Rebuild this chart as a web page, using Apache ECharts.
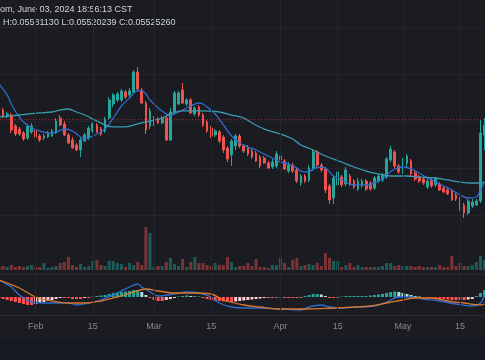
<!DOCTYPE html>
<html><head><meta charset="utf-8">
<script src="https://cdn.jsdelivr.net/npm/echarts@6/dist/echarts.min.js"></script>
<style>html,body{margin:0;padding:0;background:#1b1c22;}#c{width:485px;height:360px;}</style>
</head><body><div id="c"></div>
<script>
// ---- data (ETH/BTC daily) ----
const startDate = [2024, 0, 23];
const dayCount = 120;
const tickDates = ['02-01','02-15','03-01','03-15','04-01','04-15','05-01','05-15'];
const tickLabels = ['Feb','15','Mar','15','Apr','15','May','15'];

const open = [0.05867,0.05622,0.05559,0.05569,0.05452,0.05420,0.05378,0.05325,0.05388,0.05410,
0.05346,0.05325,0.05335,0.05346,0.05378,0.05537,0.05474,0.05357,0.05303,0.05250,
0.05197,0.05293,0.05325,0.05399,0.05463,0.05420,0.05399,0.05537,0.05686,0.05729,
0.05729,0.05814,0.05782,0.05814,0.06027,0.05835,0.05697,0.05452,0.05474,0.05527,
0.05484,0.05537,0.05303,0.05601,0.05686,0.05835,0.05686,0.05729,0.05580,0.05654,
0.05569,0.05495,0.05431,0.05357,0.05388,0.05335,0.05218,0.05144,0.05240,0.05346,
0.05240,0.05229,0.05186,0.05165,0.05123,0.05112,0.05058,0.05016,0.05027,0.05133,
0.05080,0.04973,0.05037,0.04984,0.04846,0.04920,0.04878,0.04995,0.05176,0.05037,
0.04995,0.04814,0.04686,0.04825,0.04910,0.04835,0.04920,0.04867,0.04782,0.04814,
0.04867,0.04846,0.04793,0.04867,0.04878,0.04910,0.05090,0.05176,0.05027,0.04963,
0.05058,0.05080,0.04952,0.04910,0.04888,0.04803,0.04878,0.04825,0.04835,0.04793,
0.04771,0.04761,0.04718,0.04676,0.04612,0.04527,0.04601,0.04612,0.04654,0.05357];
const close = [0.05612,0.05559,0.05580,0.05410,0.05367,0.05367,0.05314,0.05452,0.05452,0.05335,
0.05303,0.05346,0.05378,0.05399,0.05505,0.05463,0.05357,0.05271,0.05218,0.05197,
0.05303,0.05357,0.05431,0.05474,0.05388,0.05367,0.05527,0.05729,0.05782,0.05793,
0.05825,0.05761,0.05825,0.06027,0.05846,0.05697,0.05410,0.05612,0.05527,0.05484,
0.05537,0.05303,0.05601,0.05803,0.05803,0.05697,0.05729,0.05591,0.05644,0.05569,
0.05463,0.05399,0.05346,0.05399,0.05293,0.05197,0.05101,0.05293,0.05346,0.05240,
0.05186,0.05154,0.05123,0.05080,0.05027,0.05058,0.05005,0.05069,0.05154,0.05090,
0.04995,0.05037,0.04973,0.04867,0.04920,0.04867,0.05005,0.05176,0.05037,0.04984,
0.04771,0.04665,0.04899,0.04963,0.04825,0.04984,0.04835,0.04803,0.04867,0.04867,
0.04782,0.04782,0.04899,0.04920,0.04931,0.05101,0.05208,0.05027,0.04963,0.05090,
0.05133,0.04942,0.04888,0.04867,0.04846,0.04867,0.04814,0.04888,0.04771,0.04750,
0.04729,0.04665,0.04676,0.04569,0.04527,0.04654,0.04644,0.04654,0.05378,0.05463];
const low = [0.05559,0.05537,0.05537,0.05378,0.05346,0.05346,0.05293,0.05303,0.05367,0.05325,
0.05282,0.05303,0.05325,0.05335,0.05367,0.05452,0.05346,0.05261,0.05208,0.05186,
0.05123,0.05282,0.05303,0.05378,0.05378,0.05346,0.05378,0.05516,0.05654,0.05708,
0.05708,0.05739,0.05761,0.05793,0.05825,0.05686,0.05367,0.05420,0.05452,0.05474,
0.05474,0.05293,0.05293,0.05580,0.05676,0.05686,0.05665,0.05580,0.05559,0.05548,
0.05442,0.05378,0.05325,0.05335,0.05271,0.05165,0.05069,0.05027,0.05197,0.05218,
0.05165,0.05133,0.05101,0.05069,0.05005,0.05048,0.04995,0.04995,0.05005,0.05027,
0.04984,0.04952,0.04952,0.04846,0.04814,0.04846,0.04856,0.04973,0.05016,0.04963,
0.04739,0.04622,0.04622,0.04782,0.04803,0.04814,0.04814,0.04782,0.04761,0.04793,
0.04761,0.04761,0.04771,0.04846,0.04856,0.04888,0.05069,0.05005,0.04942,0.04942,
0.05016,0.04920,0.04867,0.04846,0.04825,0.04782,0.04793,0.04803,0.04761,0.04739,
0.04718,0.04654,0.04654,0.04548,0.04474,0.04506,0.04580,0.04601,0.04633,0.05197];
const high = [0.05888,0.05644,0.05601,0.05591,0.05474,0.05442,0.05399,0.05474,0.05484,0.05431,
0.05367,0.05367,0.05399,0.05420,0.05537,0.05569,0.05505,0.05378,0.05335,0.05271,
0.05325,0.05378,0.05452,0.05495,0.05484,0.05442,0.05548,0.05761,0.05803,0.05814,
0.05846,0.05835,0.05857,0.06048,0.06080,0.05857,0.05718,0.05644,0.05559,0.05548,
0.05559,0.05559,0.05644,0.05825,0.05825,0.05910,0.05750,0.05750,0.05665,0.05676,
0.05591,0.05516,0.05452,0.05420,0.05410,0.05357,0.05240,0.05314,0.05367,0.05367,
0.05261,0.05250,0.05208,0.05186,0.05144,0.05133,0.05080,0.05101,0.05186,0.05154,
0.05101,0.05069,0.05058,0.05016,0.04942,0.04942,0.05037,0.05208,0.05197,0.05058,
0.05016,0.04835,0.04920,0.05005,0.04931,0.05016,0.04942,0.04888,0.04899,0.04888,
0.04888,0.04867,0.04920,0.04942,0.04952,0.05123,0.05240,0.05197,0.05048,0.05112,
0.05154,0.05101,0.04973,0.04931,0.04910,0.04888,0.04899,0.04910,0.04856,0.04814,
0.04793,0.04782,0.04739,0.04697,0.04633,0.04676,0.04676,0.04676,0.05516,0.05537];
const volume = [3000,4000,3000,5000,3000,4000,3000,4000,5000,3000,
3000,7000,2000,3000,4000,7000,8000,13000,5000,3000,
6000,3000,4000,9000,10000,5000,4000,9000,9000,7000,
6000,3000,7000,5000,8000,5000,43000,37000,3000,4000,
4000,8000,12000,6000,4000,11000,3000,8000,13000,7000,
7000,5000,4000,7000,5000,5000,13000,8000,3000,4000,
4000,7000,4000,11000,3000,3000,2000,5000,5000,12000,
7000,3000,10000,12000,4000,5000,6000,5000,7000,4000,
17000,12000,9000,9000,3000,5000,7000,3000,5000,3000,
3000,3000,3000,3000,4000,7000,7000,4000,5000,4000,
4000,4000,3000,4000,3000,3000,3000,3000,5000,3000,
3000,14000,4000,7000,4000,4000,5000,8000,14000,10000];

const maFastDates = ['01-23','01-25','01-26','01-27','01-28','01-29','01-31','02-02','02-04','02-06','02-08','02-10','02-12','02-13','02-15','02-17','02-18','02-19','02-20','02-21','02-22','02-24','02-26','02-27','02-28','02-29','03-02','03-04','03-05','03-06','03-08','03-10','03-12','03-13','03-14','03-16','03-18','03-20','03-22','03-24','03-26','03-28','03-30','04-01','04-03','04-05','04-06','04-08','04-09','04-11','04-12','04-13','04-14','04-16','04-18','04-20','04-22','04-24','04-26','04-27','04-29','05-01','05-03','05-05','05-07','05-09','05-11','05-13','05-15','05-17','05-19','05-20','05-21'];
const maFastValues = [0.05899,0.05782,0.05686,0.05612,0.05548,0.05495,0.05431,0.05399,0.05378,0.05388,0.05420,0.05399,0.05335,0.05314,0.05346,0.05388,0.05420,0.05474,0.05537,0.05601,0.05665,0.05750,0.05825,0.05825,0.05793,0.05729,0.05644,0.05580,0.05559,0.05580,0.05622,0.05665,0.05697,0.05686,0.05654,0.05580,0.05463,0.05346,0.05271,0.05229,0.05197,0.05154,0.05112,0.05069,0.05048,0.05005,0.04973,0.04963,0.04995,0.05016,0.05005,0.04963,0.04920,0.04878,0.04835,0.04825,0.04825,0.04846,0.04888,0.04931,0.04995,0.05016,0.04995,0.04952,0.04899,0.04856,0.04814,0.04771,0.04718,0.04686,0.04697,0.04771,0.04856];
const maSlowDates = ['01-23','01-28','02-02','02-05','02-07','02-09','02-11','02-13','02-16','02-18','02-20','02-23','02-26','02-29','03-03','03-05','03-08','03-12','03-17','03-20','03-23','03-25','03-28','04-01','04-04','04-06','04-09','04-12','04-16','04-19','04-22','04-25','04-28','05-02','05-05','05-09','05-12','05-15','05-18','05-20','05-21'];
const maSlowValues = [0.05548,0.05569,0.05591,0.05601,0.05622,0.05633,0.05601,0.05569,0.05505,0.05463,0.05442,0.05442,0.05474,0.05505,0.05537,0.05580,0.05612,0.05612,0.05601,0.05569,0.05537,0.05484,0.05420,0.05367,0.05314,0.05250,0.05197,0.05133,0.05069,0.05016,0.04973,0.04942,0.04920,0.04920,0.04910,0.04899,0.04878,0.04856,0.04846,0.04846,0.04856];

const macdDates = ['01-23','01-26','01-28','01-31','02-04','02-09','02-11','02-14','02-17','02-21','02-24','02-26','02-27','02-29','03-02','03-06','03-09','03-12','03-15','03-17','03-20','03-24','03-27','04-01','04-06','04-08','04-11','04-13','04-16','04-20','04-24','04-27','04-30','05-03','05-06','05-10','05-14','05-18','05-20','05-21'];
const macdValues = [0.00085,0.0005,0.0001,-0.00025,-0.0003,-0.0003,-0.0004,-0.0003,-0.00015,0.0002,0.0005,0.00065,0.0005,0.00025,0.00005,0.00015,0.00025,0.0002,0,-0.0003,-0.0005,-0.00055,-0.00055,-0.0006,-0.00065,-0.0005,-0.0004,-0.0005,-0.00055,-0.0005,-0.00045,-0.00025,0,0,-0.0001,-0.0002,-0.00035,-0.00045,-0.0003,0.0001];
const signalDates = ['01-23','01-28','02-01','02-05','02-09','02-13','02-17','02-21','02-25','02-28','03-02','03-06','03-10','03-15','03-18','03-23','03-27','04-01','04-07','04-14','04-19','04-23','04-27','05-01','05-04','05-08','05-12','05-16','05-20','05-21'];
const signalValues = [0.00085,0.00045,0,-0.0002,-0.0003,-0.0003,-0.0002,0,0.00025,0.0004,0.0003,0.0002,0.0002,0.00015,-0.00015,-0.0004,-0.0005,-0.0006,-0.0006,-0.00055,-0.0005,-0.00045,-0.0003,-0.00015,-0.00005,-0.00005,-0.0002,-0.0003,-0.0004,-0.00035];
const histValues = [-0.00005,-0.0001,-0.00015,-0.0002,-0.00025,-0.0003,-0.00035,-0.0004,-0.0004,-0.00035,
-0.0003,-0.00025,-0.0002,-0.00015,-0.0001,-0.00005,-0.00005,-0.00005,-0.0001,-0.0001,
-0.0001,-0.00005,-0.00005,0.000025,0.00005,0.000075,0.0001,0.00015,0.0002,0.000225,
0.00025,0.000275,0.0003,0.00035,0.00035,0.00025,0.0001,-0.00005,-0.00015,-0.0002,
-0.0002,-0.00015,-0.0001,-0.00005,0.000025,0.00005,0.000075,0.00005,0.000025,0.000025,
-0.00005,-0.0001,-0.00015,-0.0002,-0.0002,-0.000225,-0.00025,-0.00025,-0.000225,-0.0002,
-0.000175,-0.00015,-0.000125,-0.0001,-0.000075,-0.00005,-0.00005,-0.00005,-0.000025,-0.000025,
-0.00005,-0.00005,-0.00005,-0.00005,-0.000025,0.00005,0.0001,0.00015,0.00015,0.000125,
0.00005,-0.00005,-0.00005,-0.000025,0.000025,0.00005,0.00005,0.00005,0.00005,0.00005,
0.00005,0.000075,0.0001,0.000125,0.00015,0.0002,0.00025,0.000275,0.00025,0.0002,
0.00015,0.0001,0.00005,0.000025,-0.000025,-0.00005,-0.00005,-0.000075,-0.0001,-0.0001,
-0.000125,-0.00015,-0.00015,-0.00015,-0.00015,-0.000125,-0.0001,0.00005,0.0002,0.00035];
const lastClose = 0.05525260;
const headerLine1 = 'om, June 03, 2024 18:56:13 CST';
const headerLine2 = 'H:0.05581130 L:0.05520239 C:0.05525260';

// ---- build ----
const days = [];
for (let k = 0; k < dayCount; k++) {
  const d = new Date(Date.UTC(startDate[0], startDate[1], startDate[2] + k));
  days.push(String(d.getUTCMonth() + 1).padStart(2, '0') + '-' + String(d.getUTCDate()).padStart(2, '0'));
}
const UP = '#26a69a', DOWN = '#ef5350';
const candles = days.map((d, k) => [open[k], close[k], low[k], high[k]]);
const volData = volume.map((v, k) => ({ value: v, itemStyle: { color: close[k] >= open[k] ? 'rgba(38,166,154,0.45)' : 'rgba(239,83,80,0.45)' } }));
const histData = histValues.map((v, k) => {
  const p = k > 0 ? histValues[k - 1] : v;
  let c;
  if (v >= 0) c = v >= p ? '#26a69a' : '#b2dfdb';
  else c = v <= p ? '#ff5252' : '#ffcdd2';
  return { value: v, itemStyle: { color: c } };
});
const pairs = (ds, vs) => ds.map((d, k) => [d, vs[k]]);
const GRIDC = '#25262d';
const vLines = tickDates.map(t => ({ xAxis: t }));
const vLineOpt = { silent: true, symbol: 'none', label: { show: false }, lineStyle: { color: GRIDC, type: 'solid', width: 1 }, data: vLines, animation: false };

const L = -3.04, W = 489.6;
const xBase = (gi, showLabel) => ({
  type: 'category', gridIndex: gi, data: days, boundaryGap: true,
  axisLine: { show: false }, axisTick: { show: false }, splitLine: { show: false },
  axisLabel: showLabel ? {
    show: true, color: '#858893', fontSize: 9, fontFamily: 'Liberation Sans', margin: 7,
    interval: (i, v) => tickDates.includes(v),
    formatter: v => { const j = tickDates.indexOf(v); return j >= 0 ? tickLabels[j] : ''; }
  } : { show: false }
});

const chart = echarts.init(document.getElementById('c'), null, { renderer: 'canvas' });
chart.setOption({
  backgroundColor: '#1b1c22',
  animation: false,
  grid: [
    { left: L, width: W, top: 0, height: 262.5, outerBoundsMode: 'none', containLabel: false },
    { left: L, width: W, top: 227, height: 43, outerBoundsMode: 'none', containLabel: false },
    { left: L, width: W, top: 276, height: 39, outerBoundsMode: 'none', containLabel: false }
  ],
  xAxis: [xBase(0, false), xBase(1, false), xBase(2, true)],
  yAxis: [
    { type: 'value', gridIndex: 0, min: 0.040, max: 0.067926, interval: 0.005, axisLabel: { show: false }, axisLine: { show: false }, axisTick: { show: false },
      splitLine: { show: true, showMinLine: false, showMaxLine: false, lineStyle: { color: GRIDC, width: 1 } } },
    { type: 'value', gridIndex: 1, min: 0, max: 43000, show: false, splitLine: { show: false } },
    { type: 'value', gridIndex: 2, min: -0.0009, max: 0.00105, show: false, splitLine: { show: false } }
  ],
  graphic: [
    { type: 'rect', z: -10, shape: { x: 0, y: 338, width: 485, height: 22 }, style: { fill: '#161923' } },
    { type: 'line', shape: { x1: 0, y1: 274.5, x2: 485, y2: 274.5 }, style: { stroke: '#2a2b32', lineWidth: 1 } },
    { type: 'line', shape: { x1: 0, y1: 315.5, x2: 485, y2: 315.5 }, style: { stroke: '#2a2b32', lineWidth: 1 } },
    { type: 'text', x: 0, y: 10, style: { text: headerLine1, fill: '#d1d4dc', fontSize: 9, fontFamily: 'Liberation Sans', verticalAlign: 'middle' } },
    { type: 'text', x: 3, y: 23, style: { text: headerLine2, fill: '#d1d4dc', fontSize: 9, fontFamily: 'Liberation Sans', verticalAlign: 'middle' } }
  ],
  series: [
    { type: 'candlestick', xAxisIndex: 0, yAxisIndex: 0, data: candles, barWidth: 2.2,
      itemStyle: { color: UP, color0: DOWN, borderColor: UP, borderColor0: DOWN, borderWidth: 1 },
      markLine: vLineOpt },
    { type: 'line', xAxisIndex: 0, yAxisIndex: 0, data: pairs(maFastDates, maFastValues), smooth: 0.35, showSymbol: false,
      lineStyle: { color: '#2f6bd0', width: 1.3 }, z: 3 },
    { type: 'line', xAxisIndex: 0, yAxisIndex: 0, data: pairs(maSlowDates, maSlowValues), smooth: 0.35, showSymbol: false,
      lineStyle: { color: '#3b9cb0', width: 1.3 }, z: 3,
      markLine: { silent: true, symbol: 'none', precision: 10, label: { show: false }, animation: false,
        lineStyle: { color: 'rgba(242,54,69,0.6)', type: [1, 2], width: 1 },
        data: [{ yAxis: lastClose }] } },
    { type: 'bar', xAxisIndex: 1, yAxisIndex: 1, data: volData, barWidth: 3, markLine: vLineOpt },
    { type: 'bar', xAxisIndex: 2, yAxisIndex: 2, data: histData, barWidth: 3, markLine: vLineOpt },
    { type: 'line', xAxisIndex: 2, yAxisIndex: 2, data: pairs(macdDates, macdValues), smooth: 0.35, showSymbol: false,
      lineStyle: { color: '#2f6bd0', width: 1.3 }, z: 3 },
    { type: 'line', xAxisIndex: 2, yAxisIndex: 2, data: pairs(signalDates, signalValues), smooth: 0.35, showSymbol: false,
      lineStyle: { color: '#d9782a', width: 1.3 }, z: 3 }
  ]
});
</script></body></html>
